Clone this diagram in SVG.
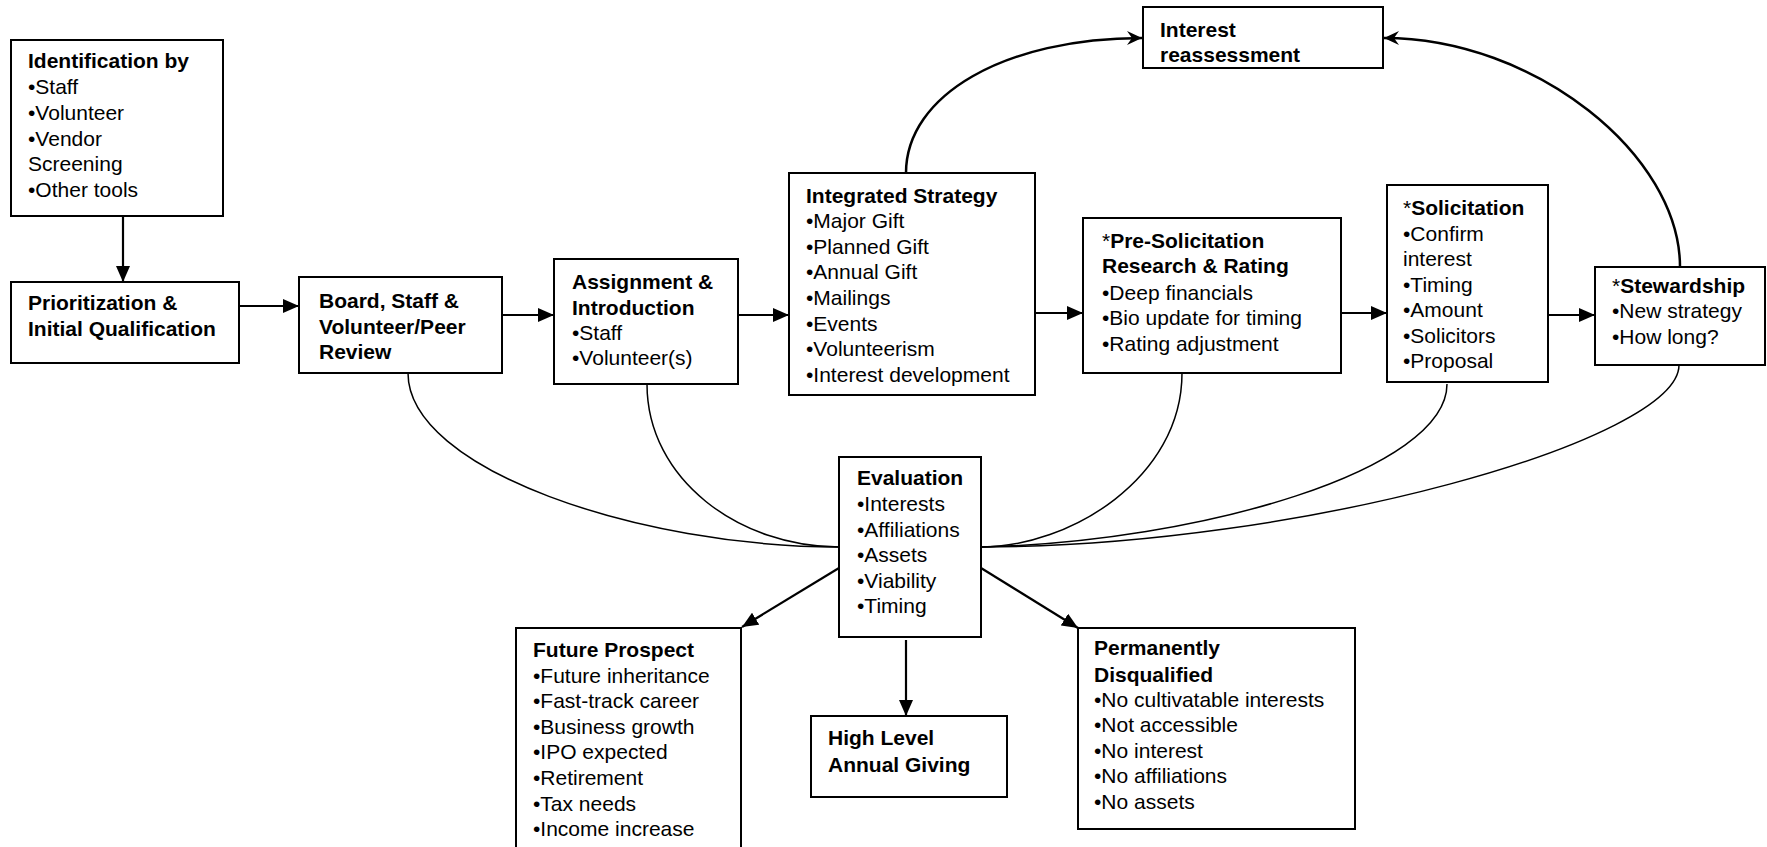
<svg xmlns="http://www.w3.org/2000/svg" width="1767" height="847" viewBox="0 0 1767 847">
<defs>
<style>
.box{fill:#fff;stroke:#000;stroke-width:2}
text{font-family:"Liberation Sans",Arial,sans-serif;font-size:21px;fill:#000}
.b{font-weight:bold}
.n{font-weight:normal}
.ln{fill:none;stroke:#000;stroke-width:2.2}
.cv{fill:none;stroke:#000;stroke-width:1.5}
.tc{fill:none;stroke:#000;stroke-width:2.5}
</style>
<marker id="ah" markerUnits="userSpaceOnUse" markerWidth="16" markerHeight="14" refX="16" refY="7" orient="auto">
<path d="M0,0 L16,7 L0,14 z" fill="#000"/>
</marker>
<marker id="bh" markerUnits="userSpaceOnUse" markerWidth="16" markerHeight="14" refX="15" refY="7" orient="auto">
<path d="M0,0 L15,7 L0,14 L5,7 z" fill="#000"/>
</marker>
</defs>
<rect width="1767" height="847" fill="#fff"/>

<g id="connectors">
<line class="ln" x1="123" y1="216" x2="123" y2="282" marker-end="url(#ah)"/>
<line class="ln" x1="239" y1="306" x2="299" y2="306" marker-end="url(#ah)"/>
<line class="ln" x1="502" y1="315" x2="554" y2="315" marker-end="url(#ah)"/>
<line class="ln" x1="738" y1="315" x2="789" y2="315" marker-end="url(#ah)"/>
<line class="ln" x1="1035" y1="313" x2="1083" y2="313" marker-end="url(#ah)"/>
<line class="ln" x1="1341" y1="313" x2="1387" y2="313" marker-end="url(#ah)"/>
<line class="ln" x1="1548" y1="315" x2="1595" y2="315" marker-end="url(#ah)"/>
<line class="ln" x1="839" y1="568" x2="742" y2="627" marker-end="url(#ah)"/>
<line class="ln" x1="906" y1="640" x2="906" y2="716" marker-end="url(#ah)"/>
<line class="ln" x1="981" y1="568" x2="1078" y2="628" marker-end="url(#ah)"/>
<path class="tc" d="M906,173 C906,95 1005,38 1142,38" marker-end="url(#bh)"/>
<path class="tc" d="M1680,267 C1680,155 1535,38 1384,38" marker-end="url(#bh)"/>
<path class="cv" d="M408,373 C408,470 640,547 839,547"/>
<path class="cv" d="M647,384 C647,480 740,547 839,547"/>
<path class="cv" d="M1182,373 C1182,478 1070,547 981,547"/>
<path class="cv" d="M1447,384 C1447,470 1200,542 981,547"/>
<path class="cv" d="M1679,365 C1679,440 1300,547 981,547"/>
</g>

<g id="identification">
<rect class="box" x="11" y="40" width="212" height="176"/>
<text x="28" y="68" class="b">Identification by</text>
<text x="28" y="94">•Staff</text>
<text x="28" y="120">•Volunteer</text>
<text x="28" y="146">•Vendor</text>
<text x="28" y="171">Screening</text>
<text x="28" y="197">•Other tools</text>
</g>

<g id="prioritization">
<rect class="box" x="11" y="282" width="228" height="81"/>
<text x="28" y="310" class="b">Prioritization &amp;</text>
<text x="28" y="336" class="b">Initial Qualification</text>
</g>

<g id="board">
<rect class="box" x="299" y="277" width="203" height="96"/>
<text x="319" y="308" class="b">Board, Staff &amp;</text>
<text x="319" y="334" class="b">Volunteer/Peer</text>
<text x="319" y="359" class="b">Review</text>
</g>

<g id="assignment">
<rect class="box" x="554" y="259" width="184" height="125"/>
<text x="572" y="289" class="b">Assignment &amp;</text>
<text x="572" y="315" class="b">Introduction</text>
<text x="572" y="340">•Staff</text>
<text x="572" y="365">•Volunteer(s)</text>
</g>

<g id="integrated">
<rect class="box" x="789" y="173" width="246" height="222"/>
<text x="806" y="203" class="b">Integrated Strategy</text>
<text x="806" y="228">•Major Gift</text>
<text x="806" y="254">•Planned Gift</text>
<text x="806" y="279">•Annual Gift</text>
<text x="806" y="305">•Mailings</text>
<text x="806" y="331">•Events</text>
<text x="806" y="356">•Volunteerism</text>
<text x="806" y="382">•Interest development</text>
</g>

<g id="reassessment">
<rect class="box" x="1143" y="7" width="240" height="61"/>
<text x="1160" y="37" class="b">Interest</text>
<text x="1160" y="62" class="b">reassessment</text>
</g>

<g id="presolicitation">
<rect class="box" x="1083" y="218" width="258" height="155"/>
<text x="1102" y="248" class="b"><tspan class="n">*</tspan>Pre-Solicitation</text>
<text x="1102" y="273" class="b">Research &amp; Rating</text>
<text x="1102" y="300">•Deep financials</text>
<text x="1102" y="325">•Bio update for timing</text>
<text x="1102" y="351">•Rating adjustment</text>
</g>

<g id="solicitation">
<rect class="box" x="1387" y="185" width="161" height="197"/>
<text x="1403" y="215" class="b"><tspan class="n">*</tspan>Solicitation</text>
<text x="1403" y="241">•Confirm</text>
<text x="1403" y="266">interest</text>
<text x="1403" y="292">•Timing</text>
<text x="1403" y="317">•Amount</text>
<text x="1403" y="343">•Solicitors</text>
<text x="1403" y="368">•Proposal</text>
</g>

<g id="stewardship">
<rect class="box" x="1595" y="267" width="170" height="98"/>
<text x="1612" y="293" class="b"><tspan class="n">*</tspan>Stewardship</text>
<text x="1612" y="318">•New strategy</text>
<text x="1612" y="344">•How long?</text>
</g>

<g id="evaluation">
<rect class="box" x="839" y="457" width="142" height="180"/>
<text x="857" y="485" class="b">Evaluation</text>
<text x="857" y="511">•Interests</text>
<text x="857" y="537">•Affiliations</text>
<text x="857" y="562">•Assets</text>
<text x="857" y="588">•Viability</text>
<text x="857" y="613">•Timing</text>
</g>

<g id="future">
<rect class="box" x="516" y="628" width="225" height="240"/>
<text x="533" y="657" class="b">Future Prospect</text>
<text x="533" y="683">•Future inheritance</text>
<text x="533" y="708">•Fast-track career</text>
<text x="533" y="734">•Business growth</text>
<text x="533" y="759">•IPO expected</text>
<text x="533" y="785">•Retirement</text>
<text x="533" y="811">•Tax needs</text>
<text x="533" y="836">•Income increase</text>
</g>

<g id="highlevel">
<rect class="box" x="811" y="716" width="196" height="81"/>
<text x="828" y="745" class="b">High Level</text>
<text x="828" y="772" class="b">Annual Giving</text>
</g>

<g id="disqualified">
<rect class="box" x="1078" y="628" width="277" height="201"/>
<text x="1094" y="655" class="b">Permanently</text>
<text x="1094" y="682" class="b">Disqualified</text>
<text x="1094" y="707">•No cultivatable interests</text>
<text x="1094" y="732">•Not accessible</text>
<text x="1094" y="758">•No interest</text>
<text x="1094" y="783">•No affiliations</text>
<text x="1094" y="809">•No assets</text>
</g>
</svg>
